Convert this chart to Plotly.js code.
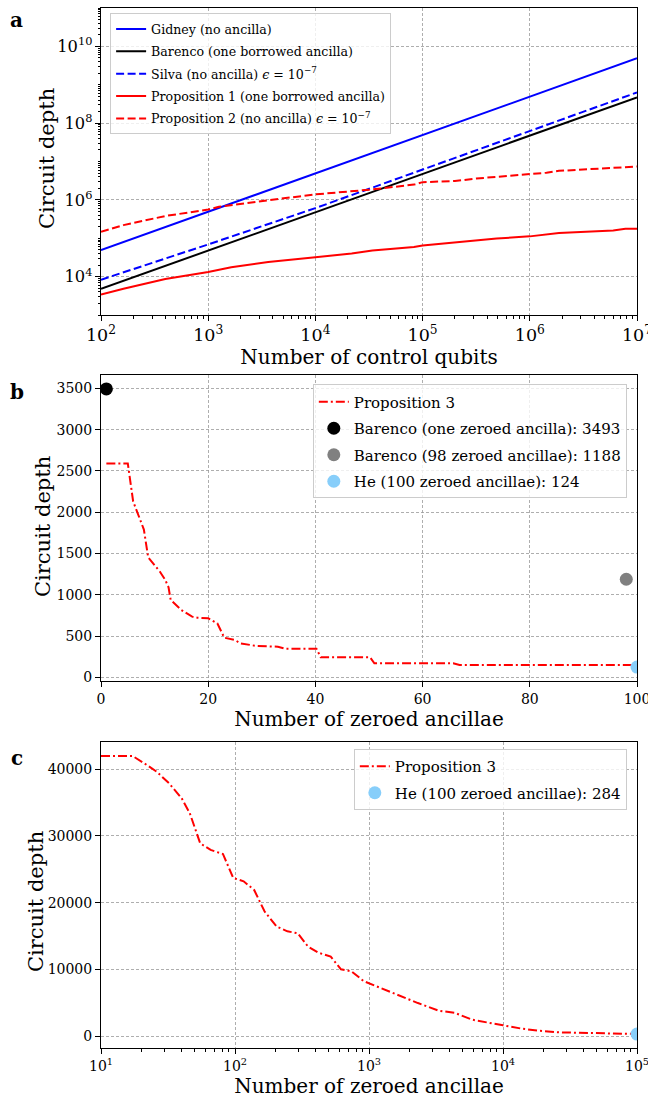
<!DOCTYPE html>
<html>
<head>
<meta charset="utf-8">
<script src="https://cdn.plot.ly/plotly-3.0.1.min.js"></script>
<style>html,body{margin:0;padding:0;background:#fff;}#chart{width:648px;height:1098px;}</style>
</head>
<body>
<div id="chart"></div>
<script>
// ---------- Panel a data ----------
const nA = [1e2, 1e3, 1e4, 1e5, 1e6, 1e7];
const gidney = [4.9e4, 4.9e5, 4.9e6, 4.9e7, 4.9e8, 4.9e9];
const barencoA = [4.8e3, 4.8e4, 4.8e5, 4.8e6, 4.8e7, 4.7e8];
const silva = [8.3e3, 6.9e4, 6.1e5, 6.2e6, 6.3e7, 6.3e8];
const prop1X = [100, 162, 398, 1000, 1640, 3630, 10000, 21800, 34000, 83000, 1e5, 4.9e5, 1e6, 1.43e6, 1.87e6, 6e6, 7.8e6, 1e7];
const prop1Y = [3.4e3, 4.85e3, 8.7e3, 1.32e4, 1.75e4, 2.4e4, 3.2e4, 4.0e4, 4.8e4, 5.9e4, 6.5e4, 9.8e4, 1.12e5, 1.23e5, 1.38e5, 1.59e5, 1.76e5, 1.76e5];
const prop2X = [100, 162, 398, 1000, 1260, 2340, 3630, 10000, 21800, 34000, 83000, 1e5, 2e5, 3.16e5, 1e6, 1.43e6, 1.87e6, 6e6, 1e7];
const prop2Y = [1.48e5, 2.2e5, 3.8e5, 5.6e5, 6.6e5, 8.4e5, 9.8e5, 1.39e6, 1.7e6, 1.87e6, 2.5e6, 2.9e6, 3.1e6, 3.6e6, 4.7e6, 5.1e6, 5.7e6, 6.9e6, 7.4e6];

// ---------- Panel b data ----------
const prop3bX = [1, 5, 6, 7, 8, 8.8, 9.5, 11, 12, 12.6, 13, 15, 17, 18, 20, 21.7, 23, 25, 26, 29, 33, 34.4, 40.2, 41, 50.2, 51, 65.7, 66.9, 100];
const prop3bY = [2590, 2590, 2130, 1960, 1790, 1453, 1400, 1279, 1178, 1090, 937, 815, 735, 723, 715, 654, 480, 452, 412, 380, 371, 347, 347, 242, 242, 170, 170, 150, 150];
const barencoOneX = [1], barencoOneY = [3493];
const barenco98X = [98], barenco98Y = [1188];
const heBX = [100], heBY = [124];

// ---------- Panel c data ----------
const prop3cX = [10, 17.2, 21, 26, 32.2, 40, 46, 55, 65.8, 81.3, 97, 116, 139, 166, 205, 246, 294, 351, 418, 518, 618, 740, 918, 1222, 1627, 2318, 3314, 4400, 5860, 7780, 10000, 13800, 18300, 26200, 40000, 57000, 76000, 100000];
const prop3cY = [42000, 42000, 40900, 39650, 37900, 35650, 33400, 28900, 27900, 27300, 23700, 23200, 21900, 18700, 16400, 15700, 15400, 13400, 12500, 11900, 10000, 9700, 8200, 7190, 6190, 4940, 3800, 3450, 2450, 1950, 1600, 1100, 800, 550, 450, 350, 300, 300];
const heCX = [100000], heCY = [284];

// ---------- Tick labels ----------
const cTickVals = [1e1, 1e2, 1e3, 1e4, 1e5];
const cTickText = ['10<sup>1</sup>', '10<sup>2</sup>', '10<sup>3</sup>', '10<sup>4</sup>', '10<sup>5</sup>'];

const FONT = 'DejaVu Serif';
const DASH = '8px,3.5px';
const DASHDOT = '9px,3px,2px,3px';

const traces = [
  {x: nA, y: gidney, mode: 'lines', name: 'Gidney (no ancilla)', line: {color: '#0000ff', width: 2}, xaxis: 'x', yaxis: 'y', legend: 'legend', legendgroup: 'a1'},
  {x: nA, y: barencoA, mode: 'lines', name: 'Barenco (one borrowed ancilla)', line: {color: '#000000', width: 2}, xaxis: 'x', yaxis: 'y', legend: 'legend', legendgroup: 'a2'},
  {x: nA, y: silva, mode: 'lines', name: 'Silva (no ancilla) <i>ϵ</i> = 10<sup>−7</sup>', line: {color: '#0000ff', width: 2, dash: DASH}, xaxis: 'x', yaxis: 'y', legend: 'legend', legendgroup: 'a3'},
  {x: prop1X, y: prop1Y, mode: 'lines', name: 'Proposition 1 (one borrowed ancilla)', line: {color: '#ff0000', width: 2}, xaxis: 'x', yaxis: 'y', legend: 'legend', legendgroup: 'a4'},
  {x: prop2X, y: prop2Y, mode: 'lines', name: 'Proposition 2 (no ancilla) <i>ϵ</i> = 10<sup>−7</sup>', line: {color: '#ff0000', width: 2, dash: DASH}, xaxis: 'x', yaxis: 'y', legend: 'legend', legendgroup: 'a5'},

  {x: prop3bX, y: prop3bY, mode: 'lines', name: 'Proposition 3', line: {color: '#ff0000', width: 2, dash: DASHDOT}, xaxis: 'x2', yaxis: 'y2', legend: 'legend2', legendgroup: 'b1'},
  {x: barencoOneX, y: barencoOneY, mode: 'markers', name: 'Barenco (one zeroed ancilla): 3493', marker: {color: '#000000', size: 13}, xaxis: 'x2', yaxis: 'y2', legend: 'legend2', legendgroup: 'b2'},
  {x: barenco98X, y: barenco98Y, mode: 'markers', name: 'Barenco (98 zeroed ancillae): 1188', marker: {color: '#808080', size: 13}, xaxis: 'x2', yaxis: 'y2', legend: 'legend2', legendgroup: 'b3'},
  {x: heBX, y: heBY, mode: 'markers', name: 'He (100 zeroed ancillae): 124', marker: {color: '#87cefa', size: 13}, xaxis: 'x2', yaxis: 'y2', legend: 'legend2', legendgroup: 'b4'},

  {x: prop3cX, y: prop3cY, mode: 'lines', name: 'Proposition 3', line: {color: '#ff0000', width: 2, dash: DASHDOT}, xaxis: 'x3', yaxis: 'y3', legend: 'legend3', legendgroup: 'c1'},
  {x: heCX, y: heCY, mode: 'markers', name: 'He (100 zeroed ancillae): 284', marker: {color: '#87cefa', size: 13}, xaxis: 'x3', yaxis: 'y3', legend: 'legend3', legendgroup: 'c2'}
];

const common = {
  showline: true, mirror: true, linecolor: '#000', linewidth: 1,
  ticks: 'outside', ticklen: 5, tickwidth: 1, tickcolor: '#000',
  showgrid: true, gridcolor: '#9a9a9a', gridwidth: 0.8, griddash: '3px,2px',
  zeroline: false, tickfont: {family: FONT, size: 14, color: '#000'},
  automargin: false, ticklabeloverflow: 'allow'
};
const minorLog = {ticks: 'outside', ticklen: 2.5, tickcolor: '#000', showgrid: false, dtick: 'D1'};
const titleFont = {family: FONT, size: 20, color: '#000'};
const yTitleFont = {family: FONT, size: 21, color: '#000'};
const legendCommon = {bgcolor: 'rgba(255,255,255,0.8)', bordercolor: '#cccccc', borderwidth: 1, font: {family: FONT, color: '#000'}};

function yTitle(x, y) {
  return {text: 'Circuit depth', xref: 'paper', yref: 'paper', x: x, y: y, xanchor: 'center', yanchor: 'middle', textangle: -90, showarrow: false, font: yTitleFont};
}
function panelLabel(t, y) {
  return {text: '<b>' + t + '</b>', xref: 'paper', yref: 'paper', x: -0.157, y: y, xanchor: 'center', yanchor: 'middle', showarrow: false, font: {family: FONT, size: 20, color: '#000'}};
}

const layout = {
  width: 648, height: 1098,
  margin: {l: 101, r: 11, t: 8, b: 50},
  paper_bgcolor: '#fff', plot_bgcolor: '#fff',
  font: {family: FONT, color: '#000'},
  showlegend: true,
  xaxis: Object.assign({}, common, {type: 'log', range: [2, 7], dtick: 1, exponentformat: 'power', anchor: 'y', domain: [0, 1], minor: minorLog,
    title: {text: 'Number of control qubits', font: titleFont, standoff: 1}}),
  yaxis: Object.assign({}, common, {type: 'log', range: [3, 11], dtick: 2, tick0: 0, exponentformat: 'power', anchor: 'x', domain: [0.7048, 1], minor: minorLog,
    tickfont: {family: FONT, size: 13, color: '#000'}}),
  xaxis2: Object.assign({}, common, {range: [0, 100], dtick: 20, anchor: 'y2', domain: [0, 1],
    title: {text: 'Number of zeroed ancillae', font: titleFont, standoff: 6}}),
  yaxis2: Object.assign({}, common, {range: [-44, 3661], dtick: 500, tick0: 0, anchor: 'x2', domain: [0.3529, 0.6471], tickformat: 'd'}),
  xaxis3: Object.assign({}, common, {type: 'log', range: [1, 5], tickmode: 'array', tickvals: cTickVals, ticktext: cTickText, anchor: 'y3', domain: [0, 1], minor: minorLog,
    title: {text: 'Number of zeroed ancillae', font: titleFont, standoff: 8}}),
  yaxis3: Object.assign({}, common, {range: [-1800, 44086], dtick: 10000, tick0: 0, anchor: 'x3', domain: [0, 0.2942], tickformat: 'd'}),
  legend: Object.assign({}, legendCommon, {x: 0.017, y: 0.995, xanchor: 'left', yanchor: 'top', tracegroupgap: 3, font: {family: FONT, size: 12.6, color: '#000'}}),
  legend2: Object.assign({}, legendCommon, {x: 0.981, y: 0.638, xanchor: 'right', yanchor: 'top', tracegroupgap: 4, font: {family: FONT, size: 15, color: '#000'}}),
  legend3: Object.assign({}, legendCommon, {x: 0.981, y: 0.2875, xanchor: 'right', yanchor: 'top', tracegroupgap: 4, font: {family: FONT, size: 15, color: '#000'}}),
  annotations: [
    panelLabel('a', 0.988), panelLabel('b', 0.631), panelLabel('c', 0.279),
    yTitle(-0.1007, 0.8548), yTitle(-0.1082, 0.501), yTitle(-0.1213, 0.1413)
  ]
};

Plotly.newPlot('chart', traces, layout, {staticPlot: true, displayModeBar: false});
</script>
</body>
</html>
